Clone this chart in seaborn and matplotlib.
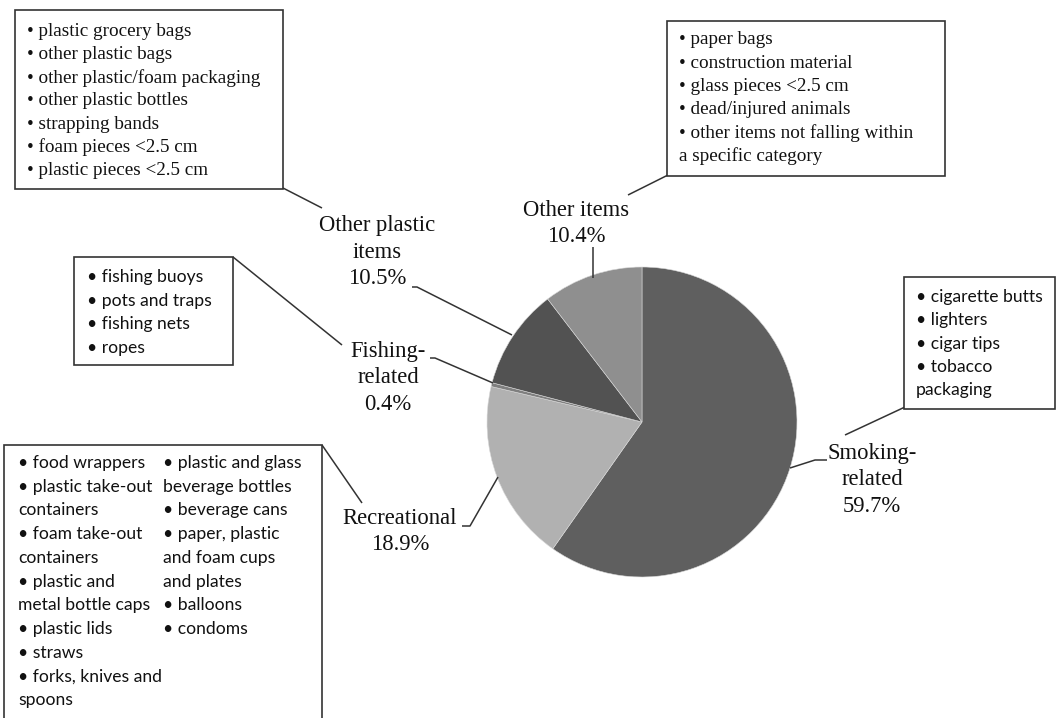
import matplotlib
matplotlib.use("Agg")
import matplotlib.pyplot as plt
import seaborn as sns
from matplotlib.patches import Rectangle

# data
categories = ["Smoking-\nrelated", "Recreational", "Fishing-\nrelated", "Other plastic\nitems", "Other items"]
shares = [59.7, 18.9, 0.4, 10.5, 10.4]
grays = ["#5f5f5f", "#b1b1b1", "#7f7f7f", "#525252", "#8f8f8f"]

other_plastic_items = ["plastic grocery bags", "other plastic bags", "other plastic/foam packaging",
                       "other plastic bottles", "strapping bands", "foam pieces <2.5 cm", "plastic pieces <2.5 cm"]
other_items = ["\u2022 paper bags", "\u2022 construction material", "\u2022 glass pieces <2.5 cm",
               "\u2022 dead/injured animals", "\u2022 other items not falling within", "a specific category"]
fishing_items = ["fishing buoys", "pots and traps", "fishing nets", "ropes"]
smoking_items = ["\u2022 cigarette butts", "\u2022 lighters", "\u2022 cigar tips", "\u2022 tobacco", "packaging"]
recreational_left = ["\u2022 food wrappers", "\u2022 plastic take-out", "containers", "\u2022 foam take-out",
                     "containers", "\u2022 plastic and", "metal bottle caps", "\u2022 plastic lids",
                     "\u2022 straws", "\u2022 forks, knives and", "spoons"]
recreational_right = ["\u2022 plastic and glass", "beverage bottles", "\u2022 beverage cans", "\u2022 paper, plastic",
                      "and foam cups", "and plates", "\u2022 balloons", "\u2022 condoms"]

sns.set_theme(style="white")
SERIF = ["Liberation Serif", "DejaVu Serif"]
SANS = ["Lato", "DejaVu Sans"]

W, H = 1057, 718
fig = plt.figure(figsize=(W / 100, H / 100), dpi=100)
ax = fig.add_axes([0, 0, 1, 1])
ax.axis("off")


def Y(y):
    return H - y


# pie
ax.pie(shares, colors=grays, startangle=90, counterclock=False,
       center=(642, Y(422)), radius=155,
       wedgeprops=dict(edgecolor="#d8d8d8", linewidth=0.4))
ax.set_xlim(0, W)
ax.set_ylim(0, H)
ax.set_aspect("auto")

# category labels (first line centre, pixels from top)
label_pos = [(872, 453), (400, 518), (388, 351), (377, 226), (576, 210)]
for name, val, (x, y) in zip(categories, shares, label_pos):
    rows = name.split("\n") + [f"{val}%"]
    for i, r in enumerate(rows):
        ax.text(x, Y(y + i * 26.5), r, ha="center", va="center", family=SERIF,
                fontsize=16.3, color="#111111")


def line(pts):
    ax.plot([p[0] for p in pts], [Y(p[1]) for p in pts], color="#333333", lw=1.1,
            solid_capstyle="butt")


# leader lines from pie
line([(790, 468), (815, 460), (827, 460)])
line([(498, 477), (470, 526), (462, 526)])
line([(493, 383), (435, 358), (430, 358)])
line([(512, 335), (417, 287), (412, 287)])
line([(593, 278), (593, 247)])

# leader lines from boxes
line([(283, 188), (322, 208)])
line([(668, 175), (628, 195)])
line([(233, 257), (342, 345)])
line([(322, 445), (362, 503)])
line([(905, 407), (845, 435)])


def box(x0, y0, x1, y1):
    ax.add_patch(Rectangle((x0, Y(y1)), x1 - x0, y1 - y0, facecolor="white",
                           edgecolor="#333333", lw=1.2, zorder=3))


def text_lines(items, x, y0, step, family, size):
    for i, t in enumerate(items):
        ax.text(x, Y(y0 + i * step), t, ha="left", va="center", family=family,
                fontsize=size, color="#111111", zorder=4)


box(15, 10, 283, 189)
text_lines(["\u2022 " + t for t in other_plastic_items], 27, 31, 23.3, SERIF, 13.8)

box(667, 21, 945, 176)
text_lines(other_items, 679, 40, 23.3, SERIF, 13.8)

box(74, 257, 233, 365)
text_lines(["\u2022 " + t for t in fishing_items], 87, 277, 23.6, SANS, 12.6)

box(904, 277, 1055, 409)
text_lines(smoking_items, 916, 297, 23.3, SANS, 12.6)

box(4, 445, 322, 730)
text_lines(recreational_left, 18, 463, 23.7, SANS, 12.6)
text_lines(recreational_right, 163, 463, 23.7, SANS, 12.6)

fig.savefig("out.png", dpi=100, facecolor="white")
